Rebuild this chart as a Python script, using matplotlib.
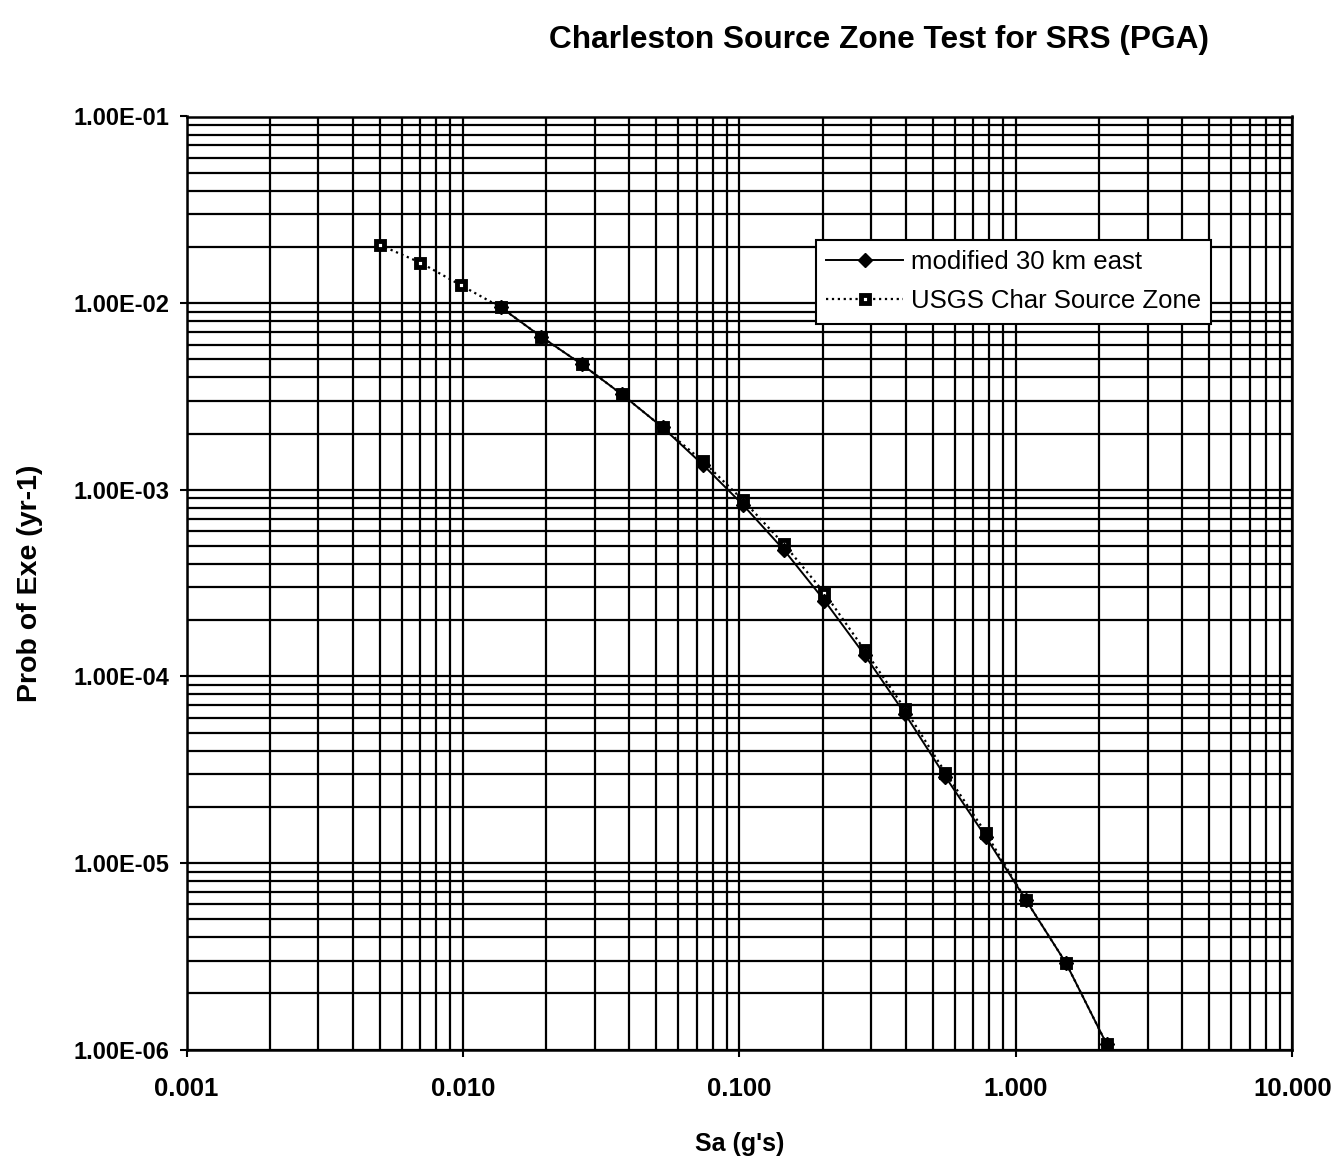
import numpy as np
import matplotlib
matplotlib.use("Agg")
import matplotlib.pyplot as plt
from matplotlib.ticker import LogLocator, FixedLocator, NullFormatter

plt.rcParams['font.family'] = ['Liberation Sans', 'DejaVu Sans']

# spectral acceleration levels (g)
sa = [0.005, 0.007, 0.0098, 0.0137, 0.0192, 0.0269, 0.0376, 0.0527, 0.0738, 0.103,
      0.145, 0.203, 0.284, 0.397, 0.556, 0.778, 1.09, 1.52, 2.13]

# USGS Char Source Zone hazard
usgs = [2.05e-2, 1.65e-2, 1.25e-2, 9.5e-3, 6.6e-3, 4.7e-3, 3.24e-3, 2.16e-3, 1.42e-3, 8.8e-4,
        5.1e-4, 2.8e-4, 1.38e-4, 6.7e-5, 3.05e-5, 1.45e-5, 6.3e-6, 2.9e-6, 1.07e-6]

# modified 30 km east (starts at 0.0137 g)
sa_mod = sa[3:]
modified = [9.5e-3, 6.6e-3, 4.7e-3, 3.24e-3, 2.16e-3, 1.36e-3, 8.3e-4,
            4.75e-4, 2.55e-4, 1.3e-4, 6.3e-5, 2.9e-5, 1.38e-5, 6.3e-6, 2.9e-6, 1.07e-6]

x_ticks = [0.001, 0.01, 0.1, 1.0, 10.0]
x_ticklabels = ["0.001", "0.010", "0.100", "1.000", "10.000"]
y_ticks = [1e-6, 1e-5, 1e-4, 1e-3, 1e-2, 1e-1]
y_ticklabels = ["1.00E-06", "1.00E-05", "1.00E-04", "1.00E-03", "1.00E-02", "1.00E-01"]

fig = plt.figure(figsize=(13.42, 11.65), dpi=100)
ax = fig.add_axes([0.139, 0.099, 0.824, 0.801])

ax.plot(sa_mod, modified, color='black', lw=1.4, marker='D', markersize=7,
        mfc='black', mec='black', label='modified 30 km east', zorder=4)
ax.plot(sa, usgs, color='black', lw=1.6, ls=':', marker='s', markersize=6,
        mfc='white', mec='black', mew=3.5, label='USGS Char Source Zone', zorder=3)

ax.set_xscale('log')
ax.set_yscale('log')
ax.set_xlim(0.001, 10)
ax.set_ylim(1e-6, 1e-1)

ax.xaxis.set_major_locator(FixedLocator(x_ticks))
ax.set_xticklabels(x_ticklabels)
ax.yaxis.set_major_locator(FixedLocator(y_ticks))
ax.set_yticklabels(y_ticklabels)
ax.xaxis.set_minor_locator(LogLocator(base=10, subs=np.arange(2, 10)))
ax.yaxis.set_minor_locator(LogLocator(base=10, subs=np.arange(2, 10)))
ax.xaxis.set_minor_formatter(NullFormatter())
ax.yaxis.set_minor_formatter(NullFormatter())

ax.grid(True, which='both', color='black', lw=1.6, zorder=1)
ax.tick_params(which='major', length=5, width=1.5)
ax.tick_params(axis='x', which='major', labelsize=18.5, pad=15)
ax.tick_params(axis='y', which='major', labelsize=17, pad=7)
ax.tick_params(which='minor', length=0)
for lbl in ax.get_xticklabels() + ax.get_yticklabels():
    lbl.set_fontweight('bold')
for sp in ax.spines.values():
    sp.set_linewidth(1.8)
    sp.set_color('black')

ax.set_xlabel("Sa (g's)", fontsize=18, fontweight='bold', labelpad=22)
ax.set_ylabel("Prob of Exe (yr-1)", fontsize=20.5, fontweight='bold', labelpad=22)
fig.text(0.655, 0.966, "Charleston Source Zone Test for SRS (PGA)", fontsize=22.8,
         fontweight='bold', ha='center', va='center')

leg = ax.legend(loc='upper left', bbox_to_anchor=(0.569, 0.868), fontsize=18.5,
                frameon=True, fancybox=False, framealpha=1, edgecolor='black',
                handlelength=3, borderpad=0.4, labelspacing=0.6, handletextpad=0.3,
                borderaxespad=0)
leg.get_frame().set_linewidth(1.5)

fig.savefig("out.png", dpi=100, facecolor='white')
